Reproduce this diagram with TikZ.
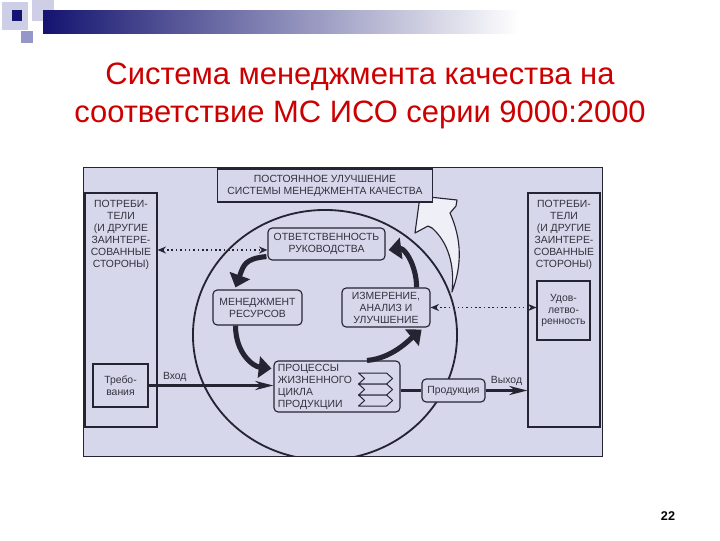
\documentclass[tikz,border=0pt]{standalone}
\usepackage{fontspec}
\setmainfont{Liberation Sans}
\usepackage{tikz}
\usetikzlibrary{arrows.meta,calc,positioning}
\definecolor{panelC}{RGB}{215,215,235}
\definecolor{lineC}{RGB}{36,36,50}
\definecolor{textC}{RGB}{50,50,62}
\definecolor{titleC}{RGB}{204,0,0}
\definecolor{navyC}{RGB}{20,20,112}
\definecolor{lilacC}{RGB}{206,206,230}
\definecolor{midC}{RGB}{150,150,200}
\newcommand{\diag}{\fontsize{7.4}{8.5}\selectfont}
\tikzstyle{Box}=[rectangle, draw=lineC, fill=panelC, line width=0.8pt, align=center, inner sep=1pt, text=textC, font=\diag]
\tikzstyle{RBox}=[Box, rounded corners=3pt]
\tikzstyle{Txt}=[align=center, inner sep=0pt, text=textC, font=\diag]
\tikzstyle{Flow}=[line width=1.6pt, draw=lineC, -{Stealth[length=13pt,width=6.5pt]}]
\tikzstyle{Dots}=[dotted, line width=1.1pt, draw=lineC, {Stealth[length=6pt,width=5pt]}-{Stealth[length=6pt,width=5pt]}]
\tikzstyle{Turn}=[line width=3.6pt, draw=lineC, -{Triangle[length=9pt,width=15pt]}]

\begin{document}
\begin{tikzpicture}[x=0.025cm, y=-0.025cm]
    \useasboundingbox (0,0) rectangle (720,540);
    \fill[white] (0,0) rectangle (720,540);

    % slide header
    \fill[lilacC] (2,2) rectangle (28,30);
    \fill[lilacC] (32,0) rectangle (54,21);
    \shade[left color=navyC, middle color=navyC!45!white, right color=white] (43,10) rectangle (520,33);
    \fill[navyC] (12,10) rectangle (22,21);
    \fill[midC] (21,31) rectangle (33,43);

    \path
    (360,96) node[align=center, text=titleC, font=\fontsize{22}{27}\selectfont] (title) {Система менеджмента качества на\\соответствие МС ИСО серии 9000:2000}
    (668,516) node[font=\bfseries\fontsize{9}{10}\selectfont] (pnum) {22};

    % panel and ring
    \draw[fill=panelC, draw=lineC, line width=0.6pt] (83,167) rectangle (602,456);
    \begin{scope}
        \clip (83,167) rectangle (602,456);
        \draw[lineC, line width=1.3pt] (325,335) ellipse [x radius=3.3cm, y radius=3.125cm];
    \end{scope}

    % hollow improvement arrow
    \draw[lineC, fill=panelC!40!white, line width=0.8pt, line join=round]
    (420,196) -- (457,200) -- (456,206) -- (450,213)
    .. controls (462,240) and (462,265) .. (452,292)
    .. controls (455,265) and (448,242) .. (432,228)
    -- (428,226) -- (415,233) -- cycle;

    \path
    (325,185.5) node[Box, minimum width=5.375cm, minimum height=0.825cm] (improve) {ПОСТОЯННОЕ УЛУЧШЕНИЕ\\СИСТЕМЫ МЕНЕДЖМЕНТА КАЧЕСТВА}
    (121,310) node[Box, minimum width=1.8cm, minimum height=5.85cm] (custL) {}
    (564,310) node[Box, minimum width=1.8cm, minimum height=5.85cm] (custR) {}
    (120.5,385.5) node[Box, minimum width=1.375cm, minimum height=1.075cm] (reqs) {Требо-\\вания}
    (563.5,310.5) node[Box, minimum width=1.325cm, minimum height=1.475cm] (satisf) {Удов-\\летво-\\ренность}
    (326.5,244) node[RBox, minimum width=2.925cm, minimum height=0.8cm] (resp) {ОТВЕТСТВЕННОСТЬ\\РУКОВОДСТВА}
    (257.5,307.5) node[RBox, minimum width=2.225cm, minimum height=0.875cm] (res) {МЕНЕДЖМЕНТ\\РЕСУРСОВ}
    (386,307.5) node[RBox, minimum width=2.2cm, minimum height=0.975cm] (meas) {ИЗМЕРЕНИЕ,\\АНАЛИЗ И\\УЛУЧШЕНИЕ}
    (337,386.5) node[RBox, minimum width=3.15cm, minimum height=1.275cm, text width=2.95cm, align=left] (proc) {ПРОЦЕССЫ\\ЖИЗНЕННОГО\\ЦИКЛА\\ПРОДУКЦИИ}
    (453.5,390.5) node[RBox, minimum width=1.575cm, minimum height=0.575cm] (prod) {Продукция};

    \node[Txt, below=0.2cm of custL.north] (custLtxt) {ПОТРЕБИ-\\ТЕЛИ\\(И ДРУГИЕ\\ЗАИНТЕРЕ-\\СОВАННЫЕ\\СТОРОНЫ)};
    \node[Txt, below=0.2cm of custR.north] (custRtxt) {ПОТРЕБИ-\\ТЕЛИ\\(И ДРУГИЕ\\ЗАИНТЕРЕ-\\СОВАННЫЕ\\СТОРОНЫ)};

    % stacked process marks
    \foreach \k in {0,1,2}
        \draw[lineC, fill=panelC, line width=0.7pt, line join=round] ($(proc.east)+(-42,-13.5+11*\k)$) -- ++(28,0) -- ++(6,5.5) -- ++(-6,5.5) -- ++(-28,0) -- ++(6,-5.5) -- cycle;

    % flows
    \draw[Flow] (reqs.east) -- (reqs.east -| proc.west) node[pos=0.21, above=2pt, Txt] (inlbl) {Вход};
    \draw[line width=1.6pt, lineC] (prod.west -| proc.east) -- (prod.west);
    \draw[Flow] (prod.east) -- (prod.east -| custR.west) node[midway, above=3pt, Txt] (outlbl) {Выход};

    \coordinate (dl) at ([yshift=-0.15cm]resp.west);
    \draw[Dots] (custL.east |- dl) -- (dl);
    \draw[Dots] (meas.east) -- (meas.east -| satisf.west);

    % cycle arrows
    \draw[Turn] ($(resp.south west)+(-1,-4)$) .. controls +(-22,2) and +(8,-22) .. ($(res.north)+(-22,-2)$);
    \draw[Turn] ($(res.south)+(-22,0)$) .. controls +(0,28) and +(-18,-2) .. ($(proc.west)+(-2,-18)$);
    \draw[Turn] ($(proc.north)+(30,0)$) .. controls +(25,-2) and +(-12,10) .. ($(meas.south east)+(-9,2)$);
    \draw[Turn] ($(meas.north east)+(-14,0)$) .. controls +(0,-22) and +(16,-2) .. ($(resp.east)+(3,6)$);
\end{tikzpicture}
\end{document}
